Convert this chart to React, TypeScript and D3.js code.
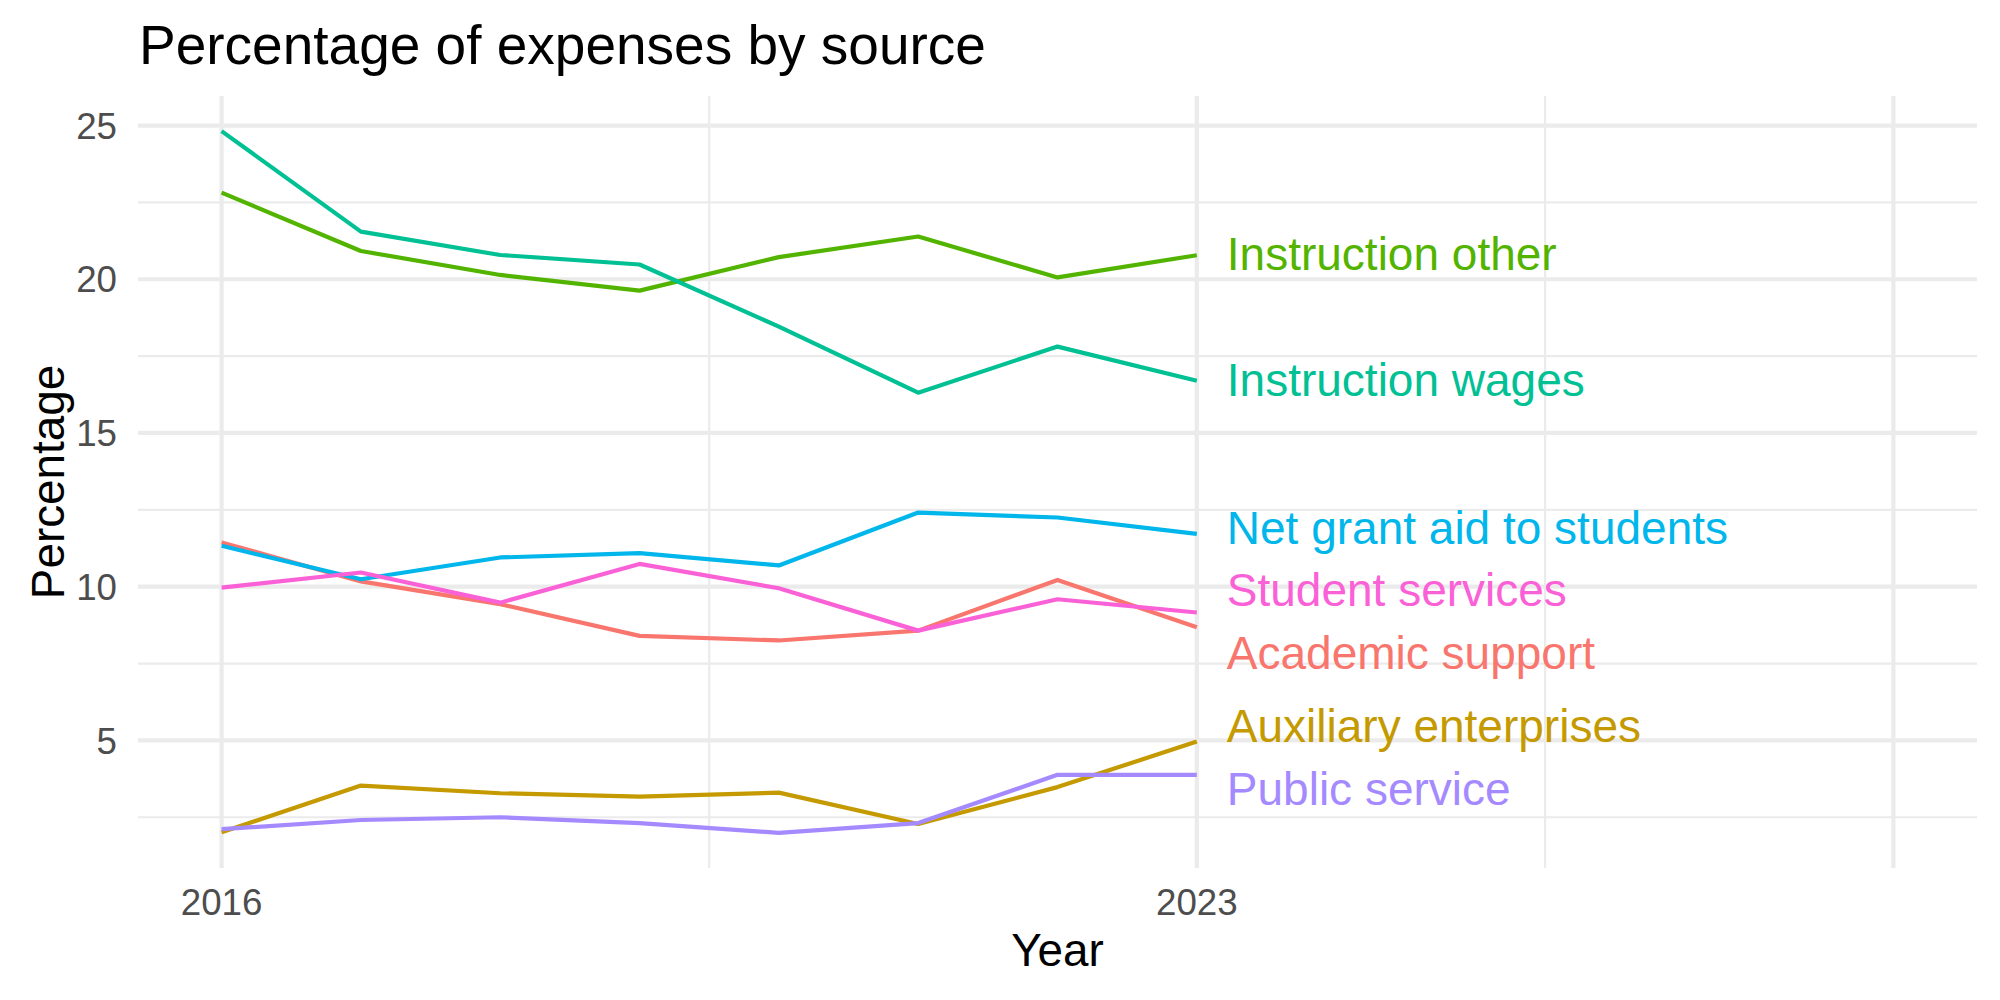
import React, { useEffect, useRef } from 'react';
import * as d3 from 'd3';

// expense shares (%) per year
const years = [2016, 2017, 2018, 2019, 2020, 2021, 2022, 2023];
const academicSupport = [11.44, 10.17, 9.43, 8.40, 8.25, 8.57, 10.22, 8.68];
const auxiliaryEnterprises = [2.01, 3.53, 3.28, 3.17, 3.30, 2.28, 3.48, 4.96];
const instructionOther = [22.82, 20.92, 20.14, 19.63, 20.72, 21.39, 20.06, 20.78];
const instructionWages = [24.82, 21.55, 20.79, 20.48, 18.46, 16.31, 17.81, 16.70];
const netGrantAid = [11.33, 10.24, 10.95, 11.09, 10.69, 12.41, 12.25, 11.72];
const publicService = [2.11, 2.41, 2.50, 2.31, 1.99, 2.31, 3.88, 3.88];
const studentServices = [9.97, 10.46, 9.48, 10.74, 9.95, 8.57, 9.59, 9.16];

const sourceNames = [
  'Academic support',
  'Auxiliary enterprises',
  'Instruction other',
  'Instruction wages',
  'Net grant aid to students',
  'Public service',
  'Student services',
];
const sourceValues = [
  academicSupport,
  auxiliaryEnterprises,
  instructionOther,
  instructionWages,
  netGrantAid,
  publicService,
  studentServices,
];
const palette = ['#F8766D', '#C49A00', '#53B400', '#00C094', '#00B6EB', '#A58AFF', '#FB61D7'];

const xLimits = [2016, 2028];
const xMajor = [2016, 2023, 2028];
const xMajorLabels = ['2016', '2023', ''];
const xMinor = [2019.5, 2025.5];
const yMajor = [5, 10, 15, 20, 25];
const yMinor = [2.5, 7.5, 12.5, 17.5, 22.5];

const W = 2000;
const H = 1000;
const panel = { left: 138, right: 1977, top: 96, bottom: 868 };
const FONT = '"Liberation Sans", Arial, Helvetica, sans-serif';

// push overlapping labels apart (pixel space), keeps order
function repel(ys: number[], gap: number) {
  const out = ys.slice();
  const order = d3.range(out.length).sort((a, b) => out[a] - out[b]);
  for (let it = 0; it < 300; it++) {
    let moved = false;
    for (let k = 0; k < order.length - 1; k++) {
      const a = order[k], b = order[k + 1];
      const d = out[b] - out[a];
      if (d < gap) {
        const push = (gap - d) / 2;
        out[a] -= push;
        out[b] += push;
        moved = true;
      }
    }
    if (!moved) break;
  }
  return out;
}

const App = () => {
  const ref = useRef<SVGSVGElement>(null);

  useEffect(() => {
    const svg = d3.select(ref.current).attr('width', W).attr('height', H);
    svg.selectAll('*').remove();

    const xPad = (xLimits[1] - xLimits[0]) * 0.05;
    const x = d3.scaleLinear()
      .domain([xLimits[0] - xPad, xLimits[1] + xPad])
      .range([panel.left, panel.right]);

    const all = sourceValues.flat();
    const yMin = d3.min(all) as number;
    const yMax = d3.max(all) as number;
    const yPad = (yMax - yMin) * 0.05;
    const y = d3.scaleLinear()
      .domain([yMin - yPad, yMax + yPad])
      .range([panel.bottom, panel.top]);

    svg.append('rect').attr('width', W).attr('height', H).attr('fill', '#fff');

    // grid
    const grid = svg.append('g');
    grid.selectAll('.hmin').data(yMinor.filter(v => v >= y.domain()[0] && v <= y.domain()[1]))
      .enter().append('line')
      .attr('x1', panel.left).attr('x2', panel.right)
      .attr('y1', d => y(d)).attr('y2', d => y(d))
      .attr('stroke', '#EBEBEB').attr('stroke-width', 2.2);
    grid.selectAll('.vmin').data(xMinor)
      .enter().append('line')
      .attr('y1', panel.top).attr('y2', panel.bottom)
      .attr('x1', d => x(d)).attr('x2', d => x(d))
      .attr('stroke', '#EBEBEB').attr('stroke-width', 2.2);
    grid.selectAll('.hmaj').data(yMajor)
      .enter().append('line')
      .attr('x1', panel.left).attr('x2', panel.right)
      .attr('y1', d => y(d)).attr('y2', d => y(d))
      .attr('stroke', '#EBEBEB').attr('stroke-width', 4.2);
    grid.selectAll('.vmaj').data(xMajor)
      .enter().append('line')
      .attr('y1', panel.top).attr('y2', panel.bottom)
      .attr('x1', d => x(d)).attr('x2', d => x(d))
      .attr('stroke', '#EBEBEB').attr('stroke-width', 4.2);

    // axis labels
    svg.append('g').selectAll('text').data(yMajor)
      .enter().append('text')
      .attr('x', 117).attr('y', d => y(d)).attr('dy', '0.36em')
      .attr('text-anchor', 'end')
      .attr('font-family', FONT).attr('font-size', 36.7).attr('fill', '#4D4D4D')
      .text(d => d);
    svg.append('g').selectAll('text').data(xMajor)
      .enter().append('text')
      .attr('x', d => x(d)).attr('y', 915)
      .attr('text-anchor', 'middle')
      .attr('font-family', FONT).attr('font-size', 36.7).attr('fill', '#4D4D4D')
      .text((d, i) => xMajorLabels[i]);

    svg.append('text')
      .attr('x', (panel.left + panel.right) / 2).attr('y', 966)
      .attr('text-anchor', 'middle')
      .attr('font-family', FONT).attr('font-size', 45.8).attr('fill', '#000')
      .text('Year');
    svg.append('text')
      .attr('transform', `translate(64,${(panel.top + panel.bottom) / 2}) rotate(-90)`)
      .attr('text-anchor', 'middle')
      .attr('font-family', FONT).attr('font-size', 45.8).attr('fill', '#000')
      .text('Percentage');

    svg.append('text')
      .attr('x', 139).attr('y', 64)
      .attr('font-family', FONT).attr('font-size', 55).attr('fill', '#000')
      .text('Percentage of expenses by source');

    // lines
    const line = d3.line<number>()
      .x((d, i) => x(years[i]))
      .y(d => y(d));
    svg.append('g').selectAll('path').data(sourceValues)
      .enter().append('path')
      .attr('d', d => line(d))
      .attr('fill', 'none')
      .attr('stroke', (d, i) => palette[i])
      .attr('stroke-width', 4.2)
      .attr('stroke-linejoin', 'round');

    // end labels, nudged right and spread so they don't overlap
    const lastIdx = years.length - 1;
    const endY = sourceValues.map(v => y(v[lastIdx]));
    const labelY = repel(endY, 62.5);
    svg.append('g').selectAll('text').data(sourceNames)
      .enter().append('text')
      .attr('x', x(years[lastIdx]) + 30)
      .attr('y', (d, i) => labelY[i])
      .attr('dy', '0.33em')
      .attr('font-family', FONT).attr('font-size', 46)
      .attr('fill', (d, i) => palette[i])
      .text(d => d);
  }, []);

  return (
    <div style={{ position: 'absolute', left: 0, top: 0 }}>
      <svg ref={ref} style={{ display: 'block' }}></svg>
    </div>
  );
};

export default App;
